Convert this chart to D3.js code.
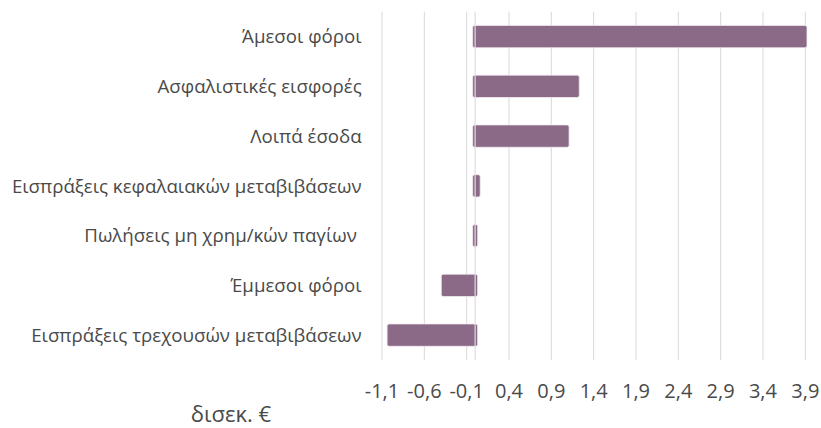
<!DOCTYPE html>
<html>
<head>
<meta charset="utf-8">
<script src="https://cdn.jsdelivr.net/npm/d3@7"></script>
<style>
  html, body { margin: 0; padding: 0; background: #fff; }
  svg { display: block; }
  text { font-family: "Open Sans", "Noto Sans", sans-serif; fill: #4a4a4a; white-space: pre; }
</style>
</head>
<body>
<svg id="chart" width="821" height="428"></svg>
<script>
// Revenue categories (top to bottom) and change in billion euro
const categories = [
  "Άμεσοι φόροι",
  "Ασφαλιστικές εισφορές",
  "Λοιπά έσοδα",
  "Εισπράξεις κεφαλαιακών μεταβιβάσεων",
  "Πωλήσεις μη χρημ/κών παγίων ",
  "Έμμεσοι φόροι",
  "Εισπράξεις τρεχουσών μεταβιβάσεων"
];
const values = [3.92, 1.23, 1.11, 0.06, 0.03, -0.40, -1.04];
const xTicks = [-1.1, -0.6, -0.1, 0.4, 0.9, 1.4, 1.9, 2.4, 2.9, 3.4, 3.9];
const unitLabel = "δισεκ. €";

const svg = d3.select("#chart");
const plotLeft = 382, plotRight = 805.3, plotTop = 11.7, plotBottom = 360;

const x = d3.scaleLinear().domain([-1.1, 3.9]).range([plotLeft, plotRight]);
const y = d3.scaleBand().domain(categories).range([plotTop, plotBottom]).paddingInner(0.55).paddingOuter(0.275);

// vertical gridlines
svg.append("g")
  .selectAll("line")
  .data(xTicks)
  .join("line")
  .attr("x1", d => x(d)).attr("x2", d => x(d))
  .attr("y1", plotTop).attr("y2", plotBottom)
  .attr("stroke", "#d9d9d9").attr("stroke-width", 1);

// bars
const overhang = 2.5;
svg.append("g")
  .selectAll("rect")
  .data(values)
  .join("rect")
  .attr("x", d => d >= 0 ? x(0) - overhang : x(d))
  .attr("width", d => Math.abs(x(d) - x(0)) + overhang)
  .attr("y", (d, i) => y(categories[i]))
  .attr("height", y.bandwidth())
  .attr("rx", 2)
  .attr("fill", "#8b6a88")
  .attr("stroke", "#f3eef3")
  .attr("stroke-width", 0.8);

// zero axis line
svg.append("line")
  .attr("x1", x(0)).attr("x2", x(0))
  .attr("y1", plotTop).attr("y2", plotBottom)
  .attr("stroke", "#e3dbe2").attr("stroke-width", 1.2);

// x axis tick labels
const fmt = v => d3.format(".1f")(v).replace("−", "-").replace(".", ",");
svg.append("g")
  .selectAll("text")
  .data(xTicks)
  .join("text")
  .attr("x", d => x(d))
  .attr("y", 398)
  .attr("text-anchor", "middle")
  .attr("font-size", 20)
  .text(fmt);

// category labels
svg.append("g")
  .selectAll("text")
  .data(categories)
  .join("text")
  .attr("x", 361.7)
  .attr("y", d => y(d) + y.bandwidth() / 2 + 6.7)
  .attr("text-anchor", "end")
  .attr("font-size", 18.7)
  .text(d => d);

// unit label
svg.append("text")
  .attr("x", 231)
  .attr("y", 422)
  .attr("text-anchor", "middle")
  .attr("font-size", 22)
  .text(unitLabel);
</script>
</body>
</html>
